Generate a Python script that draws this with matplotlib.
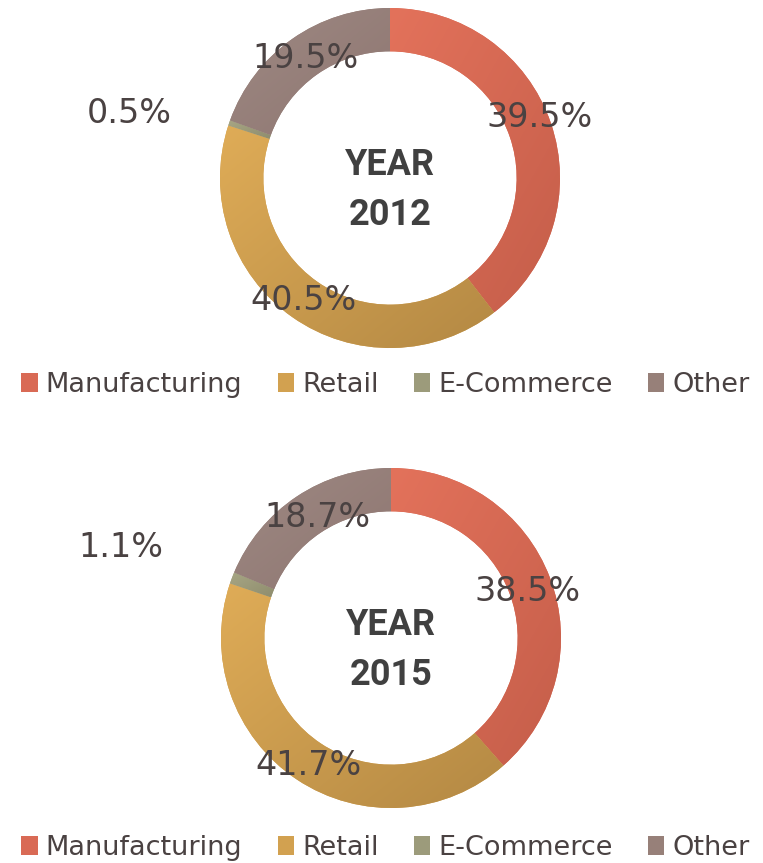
import numpy as np
import matplotlib
matplotlib.use("Agg")
import matplotlib.pyplot as plt
from matplotlib.patches import Patch
from matplotlib import colors

### Data ###

categories = ["Manufacturing", "Retail", "E-Commerce", "Other"]
share_2012 = [39.5, 40.5, 0.5, 19.5]
share_2015 = [38.5, 41.7, 1.1, 18.7]
years = ["2012", "2015"]

# light / dark ends of each slice gradient
light_cols = ["#e3725b", "#dfac57", "#a7a684", "#9e8983"]
dark_cols = ["#c55e4a", "#b48944", "#8f8d6e", "#8e7671"]
mid_cols = ["#d96a55", "#d2a150", "#9c9b7b", "#978079"]

TEXT_COL = "#4a4242"

### Helpers ###

def gradient_fill(ax, wedge, c1, c2):
    ext = wedge.get_path().get_extents()
    n = 64
    xx, yy = np.meshgrid(np.linspace(0, 1, n), np.linspace(0, 1, n))
    t = np.clip((xx + yy) / 2, 0, 1)  # top-left light -> bottom-right dark
    a = np.array(colors.to_rgb(c1))
    b = np.array(colors.to_rgb(c2))
    img = a[None, None, :] * (1 - t[..., None]) + b[None, None, :] * t[..., None]
    im = ax.imshow(img, extent=(ext.x0, ext.x1, ext.y0, ext.y1), origin="upper",
                   interpolation="bilinear", zorder=2)
    im.set_clip_path(wedge)


def donut(ax, values, year, label_r):
    wedges, _ = ax.pie(values, startangle=90, counterclock=False, colors=mid_cols,
                       radius=1.0, wedgeprops=dict(width=0.255, linewidth=0))
    for w, c1, c2 in zip(wedges, light_cols, dark_cols):
        gradient_fill(ax, w, c1, c2)
    for w, v, (r, dang) in zip(wedges, values, label_r):
        ang = np.deg2rad((w.theta1 + w.theta2) / 2 + dang)
        ax.text(r * np.cos(ang), r * np.sin(ang), f"{v:.1f}%", ha="center", va="center",
                fontsize=24, color=TEXT_COL, zorder=5)
    ax.text(0, -0.07, "YEAR\n" + year, ha="center", va="center", fontsize=26,
            fontweight="bold", family=["Roboto", "DejaVu Sans"], color="#404040",
            linespacing=1.48, zorder=5)
    ax.set_xlim(-1, 1)
    ax.set_ylim(-1, 1)
    ax.set_aspect("equal")
    ax.axis("off")


def legend_row(fig, y):
    handles = [Patch(facecolor=c, edgecolor="none") for c in mid_cols]
    fig.legend(handles, categories, loc="center", bbox_to_anchor=(0.505, y), ncol=4,
               frameon=False, fontsize=19.5, handlelength=0.6, handleheight=0.7,
               handletextpad=0.3, columnspacing=1.3, labelcolor=TEXT_COL,
               borderaxespad=0, borderpad=0)


### Figure ###

W, H = 763, 863
fig = plt.figure(figsize=(W / 100, H / 100), dpi=100)
fig.patch.set_facecolor("white")

R = 170
ax1 = fig.add_axes([(390 - R) / W, (H - 178 - R) / H, 2 * R / W, 2 * R / H])
ax2 = fig.add_axes([(391 - R) / W, (H - 638 - R) / H, 2 * R / W, 2 * R / H])

# (radius, angle shift) for each label
lab_2012 = [(0.95, 3), (0.88, 0), (1.58, 5), (0.86, 0)]
lab_2015 = [(0.85, -2), (0.894, 1), (1.675, 2.2), (0.83, -2.1)]

donut(ax1, share_2012, years[0], lab_2012)
donut(ax2, share_2015, years[1], lab_2015)

legend_row(fig, 1 - 385 / H)
legend_row(fig, 1 - 848 / H)

fig.savefig("out.png", dpi=100, facecolor="white")
